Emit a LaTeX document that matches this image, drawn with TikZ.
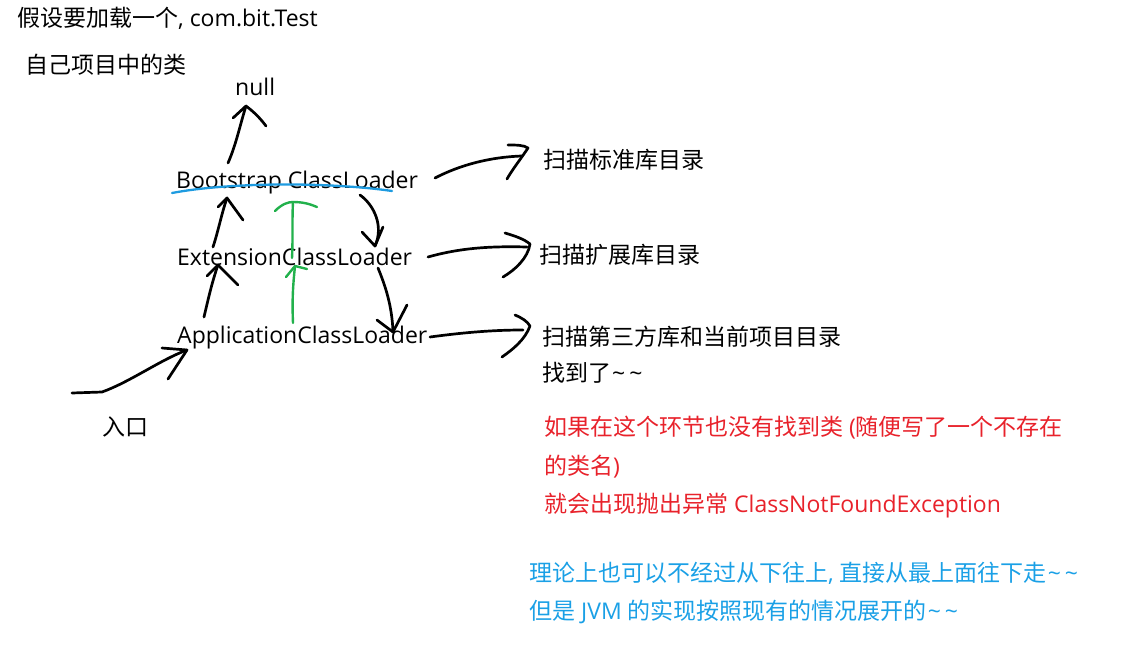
\documentclass[tikz,border=0pt]{standalone}
\usepackage{fontspec}
\setmainfont{Open Sans}
\newfontfamily\cjk{Noto Sans CJK SC}
\definecolor{redtxt}{HTML}{E8222B}
\definecolor{bluetxt}{HTML}{1AA0E6}
\definecolor{blueline}{HTML}{1E9BE0}
\definecolor{greenline}{HTML}{22B14C}
\newcommand{\tld}{\hspace{1pt}\textasciitilde\hspace{4pt}\textasciitilde}
\tikzset{
  txt/.style={anchor=base west,inner sep=0pt,font=\fontsize{23}{27}\selectfont},
  pen/.style={line width=2.7pt,line cap=round,line join=round,black},
  gpen/.style={pen,draw=greenline,line width=2.4pt},
  bpen/.style={line width=2.3pt,line cap=round,draw=blueline},
}
\begin{document}
\begin{tikzpicture}[x=1pt,y=-1pt]
\useasboundingbox (0,0) rectangle (1148,645);
% texts
\node[txt] (title) at (17,27) {{\cjk 假设要加载一个}, com.bit.Test};
\node[txt] (proj) at (25,73) {\cjk 自己项目中的类};
\node[txt] (null) at (235,95) {null};
\node[txt] (boot) at (176,188) {Bootstrap ClassLoader};
\node[txt] (ext) at (177,265) {ExtensionClassLoader};
\node[txt] (app) at (177,343) {ApplicationClassLoader};
\node[txt] (entry) at (102,435) {\cjk 入口};
\node[txt] (s1) at (543,168) {\cjk 扫描标准库目录};
\node[txt] (s2) at (539,263) {\cjk 扫描扩展库目录};
\node[txt] (s3) at (542,345) {\cjk 扫描第三方库和当前项目目录};
\node[txt] (found) at (542,381) {{\cjk 找到了}\tld};
\node[txt,text=redtxt] (r1) at (544,435) {{\cjk 如果在这个环节也没有找到类} ({\cjk 随便写了一个不存在}};
\node[txt,text=redtxt] (r2) at (544,474) {{\cjk 的类名})};
\node[txt,text=redtxt] (r3) at (544,512) {{\cjk 就会出现抛出异常} ClassNotFoundException};
\node[txt,text=bluetxt] (b1) at (529,581) {{\cjk 理论上也可以不经过从下往上}, {\cjk 直接从最上面往下走}\tld};
\node[txt,text=bluetxt] (b2) at (529,619) {{\cjk 但是} JVM {\cjk 的实现按照现有的情况展开的}\tld};
% coordinates
\coordinate (nullS) at (228,163); \coordinate (nullT) at (246,106);
\coordinate (ebS) at (213,247); \coordinate (ebT) at (227,198);
\coordinate (aeS) at (204,317); \coordinate (aeT) at (218,265);
\coordinate (g1S) at (293,323); \coordinate (g1T) at (295,266);
\coordinate (g2S) at (292,258); \coordinate (g2T) at (293,202);
\coordinate (bdS) at (360,195); \coordinate (bdT) at (375,246);
\coordinate (edS) at (378,268); \coordinate (edT) at (393,332);
\coordinate (r1S) at (435,178); \coordinate (r1T) at (528,148);
\coordinate (r2S) at (428,257); \coordinate (r2T) at (530,244);
\coordinate (r3S) at (430,337); \coordinate (r3T) at (530,326);
\coordinate (inS) at (72,393); \coordinate (inT) at (187,350);
% blue underline
\draw[bpen] (172,193) .. controls (230,182) and (330,182) .. (392,191);
% boot -> null
\draw[pen] (nullS) .. controls (236,145) and (240,125) .. (nullT);
\draw[pen] (233,118) -- (nullT) .. controls (254,112) and (260,118) .. (266,126);
% ext -> boot
\draw[pen] (ebS) .. controls (218,232) and (222,212) .. (ebT);
\draw[pen] (218,207) -- (ebT) -- (243,220);
% app -> ext
\draw[pen] (aeS) .. controls (208,300) and (212,282) .. (aeT);
\draw[pen] (207,276) -- (aeT) -- (238,285);
% green
\draw[gpen] (g1S) .. controls (292,300) and (293,285) .. (g1T);
\draw[gpen] (286,277) -- (g1T) -- (307,269);
\draw[gpen] (g2S) .. controls (293,240) and (292,220) .. (g2T);
\draw[gpen] (275,211) .. controls (282,204) and (288,202) .. (g2T) .. controls (303,202) and (310,204) .. (317,207);
% boot -> ext down
\draw[pen] (bdS) .. controls (374,205) and (384,226) .. (bdT);
\draw[pen] (362,232) -- (bdT) -- (383,227);
% ext -> app down
\draw[pen] (edS) .. controls (385,285) and (392,305) .. (edT);
\draw[pen] (377,320) -- (edT) -- (407,305);
% right arrows
\draw[pen] (r1S) .. controls (460,165) and (490,157) .. (522,156);
\draw[pen] (508,145) .. controls (516,145) and (524,145) .. (r1T) .. controls (520,160) and (512,170) .. (507,179);
\draw[pen] (r2S) .. controls (460,248) and (490,246) .. (527,247);
\draw[pen] (505,233) .. controls (515,236) and (524,239) .. (r2T) .. controls (528,258) and (515,270) .. (503,277);
\draw[pen] (r3S) .. controls (460,333) and (490,330) .. (523,330);
\draw[pen] (515,315) .. controls (522,318) and (527,321) .. (r3T) .. controls (525,340) and (512,350) .. (502,357);
% entry arrow
\draw[pen] (inS) -- (102,392) .. controls (130,382) and (160,360) .. (inT);
\draw[pen] (162,348) -- (inT) -- (168,379);
\end{tikzpicture}
\end{document}
